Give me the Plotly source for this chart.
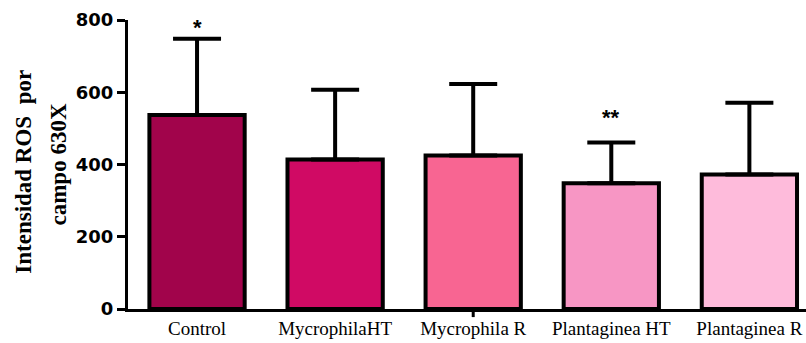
import plotly.graph_objects as go

categories = ["Control", "MycrophilaHT", "Mycrophila R", "Plantaginea HT", "Plantaginea R"]
means = [537, 414, 425, 348, 372]
sd_upper = [211, 193, 198, 113, 199]
bar_colors = ["#A1044B", "#D00A64", "#F86592", "#F796C4", "#FEBBDB"]
significance = ["*", "", "", "**", ""]
y_ticks = [0, 200, 400, 600, 800]
y_title_lines = ["Intensidad ROS  por", "campo 630X"]

# pixel offset of each significance mark above its error-bar cap
sig_offset = [11, 0, 0, 25, 0]

fig = go.Figure()
fig.add_trace(go.Bar(
    x=list(range(len(categories))),
    y=means,
    width=0.69,
    marker=dict(color=bar_colors, line=dict(color="black", width=4)),
    error_y=dict(type="data", symmetric=False, array=sd_upper,
                 arrayminus=[0] * len(means), color="black",
                 thickness=4, width=24),
    showlegend=False,
))

for i, (m, e, s) in enumerate(zip(means, sd_upper, significance)):
    if s:
        fig.add_annotation(x=i, y=m + e, text=s, showarrow=False,
                           yshift=sig_offset[i], yanchor="middle",
                           font=dict(family="Liberation Sans", size=22,
                                     color="black", weight="bold"))

# y-axis title as two rotated lines
for txt, xp, yp in zip(y_title_lines, [-0.1534, -0.1032], [0.475, 0.5]):
    fig.add_annotation(text=txt, xref="paper", yref="paper", x=xp, y=yp,
                       xanchor="center", yanchor="middle", textangle=-90,
                       showarrow=False,
                       font=dict(family="Liberation Serif", size=23,
                                 color="black", weight="bold"))

# small tick under the centre category
fig.add_shape(type="line", xref="x", yref="paper", x0=2, x1=2, y0=0, y1=-0.028,
              line=dict(color="black", width=3), layer="above")

fig.update_layout(
    width=806, height=343,
    margin=dict(l=128, r=0, t=20, b=34),
    plot_bgcolor="white", paper_bgcolor="white",
    xaxis=dict(
        range=[-0.5, 4.41],
        tickmode="array", tickvals=list(range(len(categories))), ticktext=categories,
        showline=True, linecolor="black", linewidth=3, ticks="",
        showgrid=False, zeroline=False,
        tickfont=dict(family="Liberation Serif", size=19, color="black"),
    ),
    yaxis=dict(
        range=[0, 800],
        tickmode="array", tickvals=y_ticks,
        showline=True, linecolor="black", linewidth=3,
        ticks="outside", ticklen=8, tickwidth=3, tickcolor="black",
        showgrid=False, zeroline=False,
        tickfont=dict(family="DejaVu Sans", size=18, color="black", weight="bold"),
    ),
)

fig.write_html("out.html")
